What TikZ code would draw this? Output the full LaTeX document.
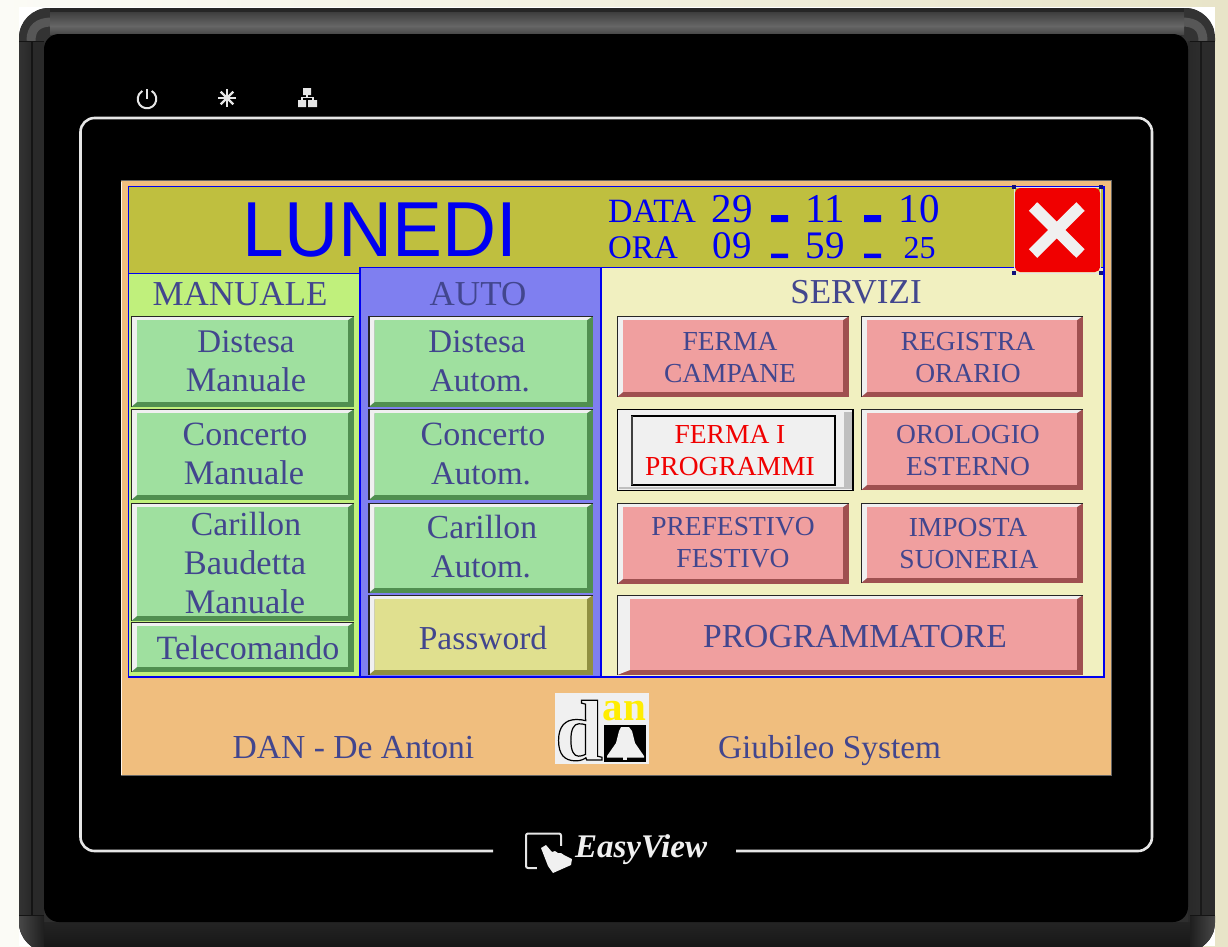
\documentclass[tikz,border=0pt]{standalone}
\usepackage{fontspec}
\setmainfont{Liberation Serif}
\newfontfamily\arialfont[FakeStretch=0.96]{Liberation Sans}
\definecolor{inkblue}{HTML}{42468E}
\definecolor{pureblue}{HTML}{0000F0}
\definecolor{orangebg}{HTML}{F0BE7E}
\definecolor{headerc}{HTML}{BFBF3F}
\definecolor{manc}{HTML}{C0F07C}
\definecolor{autoc}{HTML}{7F7FF0}
\definecolor{servc}{HTML}{F1F0C0}
\definecolor{greenf}{HTML}{9FE09F}
\definecolor{greend}{HTML}{508F50}
\definecolor{pinkf}{HTML}{F09F9F}
\definecolor{pinkd}{HTML}{9F5050}
\definecolor{yelf}{HTML}{E0E08F}
\definecolor{yeld}{HTML}{908F40}
\definecolor{lightb}{HTML}{F0F0F0}
\definecolor{linew}{HTML}{E6E6E6}
\definecolor{bgleft}{HTML}{FBFBF6}
\definecolor{bgright}{HTML}{E8E4C8}
\definecolor{handlec}{HTML}{10107A}
\newcommand\fsz[1]{\fontsize{#1}{#1}\selectfont}
\newcommand\keybtn[7]{%
  \fill[#6] (#1,#2) rectangle (#3,#4);
  \fill[lightb] (#1,#2)--(#3,#2)--(#3-6,#2+4)--(#1+#7,#2+4)--(#1+#7,#4-5)--(#1,#4)--cycle;
  \fill[#5] (#1+#7,#2+4) rectangle (#3-6,#4-5);
  \draw[black!85,line width=1.2pt] (#1+.5,#4)--(#1+.5,#2+.5)--(#3,#2+.5);
}
\tikzset{
  lbl/.style={anchor=base,inner sep=0pt,text=inkblue},
  hdr/.style={anchor=base,inner sep=0pt,text=pureblue},
  bluebox/.style={draw=pureblue,line width=1.1pt},
  handle/.style={fill=handlec},
}
\begin{document}
\begin{tikzpicture}[x=1pt,y=-1pt]
\useasboundingbox (0,0) rectangle (1228,946);
\clip (0,0) rectangle (1228,946);
% page background
\shade[left color=bgleft,right color=bgright] (0,0) rectangle (1228,946);
\fill[white] (19,7) rectangle (1215,946);
% bezel
\begin{scope}
\clip[rounded corners=30pt] (19,8) rectangle (1215,952);
\fill[black!82] (19,8) rectangle (1215,952);
\shade[left color=black!80,right color=black!84] (19,41) rectangle (31,925);
\fill[black!92] (31,41) rectangle (33,925);
\fill[black!84] (33,41) rectangle (44,925);
\shade[left color=black!84,right color=black!82] (1188,41) rectangle (1202,925);
\fill[black!90] (1200,41) rectangle (1202,925);
\fill[black!83] (1202,41) rectangle (1215,925);
\shade[top color=black!86,bottom color=black!92] (19,922) rectangle (1215,952);
% top corners
\fill[black!80] (19,8) rectangle (52,41) (1182,8) rectangle (1215,41);
\draw[black!66,line width=9pt] (31,41) .. controls (31,28) and (38,22) .. (52,22);
\draw[black!66,line width=9pt] (1203,41) .. controls (1203,28) and (1196,22) .. (1182,22);
% top band
\shade[top color=black!80,bottom color=black!60] (50,8) rectangle (1184,26);
\shade[top color=black!60,bottom color=black!72] (50,26) rectangle (1184,34);
\fill[black!85] (50,8) rectangle (1184,12);
% bottom corners
\shade[left color=black!72,right color=black!88] (19,916) rectangle (44,952);
\shade[left color=black!88,right color=black!72] (1190,916) rectangle (1215,952);
\draw[black!92,line width=.8pt] (19,41)--(44,41) (1190,41)--(1215,41) (19,915)--(44,915) (1190,915)--(1215,915);
\end{scope}
\fill[black,rounded corners=15pt] (44,34) rectangle (1188,922);
% white line on the front panel
\draw[linew,line width=2.6pt,rounded corners=14pt] (493,851)--(80.5,851)--(80.5,118)--(1152,118)--(1152,851)--(736,851);
% status icons
\draw[linew,line width=2pt] ([shift={(-60:9.3)}]147,99) arc[start angle=-60,end angle=240,radius=9.3];
\draw[linew,line width=2pt] (147,89)--(147,99);
\foreach \a in {0,45,90,135}{\draw[linew,line width=2.2pt] (227,98)+(\a:9)--+(\a+180:9);}
\fill[linew] (303,88) rectangle (311,95) (298,100) rectangle (306,107) (308,100) rectangle (317,107);
\draw[linew,line width=1.2pt] (307,95)--(307,98) (302,100)--(302,97.5)--(313,97.5)--(313,100);
% screen
\fill[orangebg] (121,181) rectangle (1111,775);
\draw[black!60,line width=1.2pt] (120.5,180.5)--(1111.5,180.5)--(1111.5,775.5)--(121,775.5);
\draw[white!85!orangebg,line width=1pt] (121.5,182)--(121.5,775);
% panels
\fill[headerc] (128.5,186.5)--(1104,186.5)--(1104,267.5)--(360,267.5)--(360,273.5)--(128.5,273.5)--cycle;
\draw[bluebox] (128.5,186.5)--(1104,186.5)--(1104,267.5)--(360,267.5)--(360,273.5)--(128.5,273.5)--cycle;
\fill[manc] (128.5,273.5) rectangle (360,677);
\draw[bluebox] (128.5,273.5) rectangle (360,677);
\fill[servc] (601,267.5) rectangle (1104,677);
\draw[bluebox] (601,267.5) rectangle (1104,677);
\fill[autoc] (360,267.5) rectangle (601,677);
\draw[bluebox] (360,267.5) rectangle (601,677);
% header text
\node[hdr,font=\arialfont\fsz{78}] (day) at (380,256) {LUNEDI};
\node[hdr,font=\fsz{34}] (datal) at (652,222) {DATA};
\node[hdr,font=\fsz{33}] (oral) at (643,258) {ORA};
\node[hdr,font=\fsz{41}] (dd) at (732,222) {29};
\node[hdr,font=\fsz{41}] (mm) at (825,222) {11};
\node[hdr,font=\fsz{41}] (yy) at (919,222) {10};
\node[hdr,font=\fsz{39}] (hh) at (732,258) {09};
\node[hdr,font=\fsz{39}] (mi) at (825,258) {59};
\node[hdr,font=\fsz{32}] (ss) at (919.5,258) {25};
\fill[pureblue] (771,215) rectangle (788,222) (864,215) rectangle (881,222);
\fill[pureblue] (771,253.5) rectangle (788,258) (864,253.5) rectangle (881,258);
% close button
\draw[linew,line width=1pt] (1014,187) rectangle (1100.5,273);
\fill[red!94!black,rounded corners=5pt] (1015,188) rectangle (1100,272);
\draw[lightb,line width=12pt] (1033,206.5)--(1080.5,253.5) (1080.5,206.5)--(1033,253.5);
\foreach \p in {(1014,187),(1100.5,187),(1014,273),(1100.5,273)}{\fill[handle] \p ++(-2,-2) rectangle ++(4,4);}
% column titles
\node[lbl,font=\fsz{35}] (tman) at (240,305) {MANUALE};
\node[lbl,font=\fsz{35}] (tauto) at (478,305) {AUTO};
\node[lbl,font=\fsz{35}] (tserv) at (856,303) {SERVIZI};
% manuale
\keybtn{131}{316}{354}{407}{greenf}{greend}{6}
\keybtn{131}{409}{354}{500}{greenf}{greend}{6}
\keybtn{131}{503}{354}{621}{greenf}{greend}{6}
\keybtn{131}{622}{354}{672}{greenf}{greend}{6}
\node[lbl,font=\fsz{33}] (m1a) at (246,352) {Distesa};
\node[lbl,font=\fsz{34.4}] (m1b) at (246,391) {Manuale};
\node[lbl,font=\fsz{34}] (m2a) at (245,445) {Concerto};
\node[lbl,font=\fsz{34.4}] (m2b) at (244,484) {Manuale};
\node[lbl,font=\fsz{33.6}] (m3a) at (246,535) {Carillon};
\node[lbl,font=\fsz{34.4}] (m3b) at (245,574) {Baudetta};
\node[lbl,font=\fsz{34.4}] (m3c) at (245,613) {Manuale};
\node[lbl,font=\fsz{34}] (m4) at (248,659) {Telecomando};
% auto
\keybtn{368.5}{316}{593}{407}{greenf}{greend}{6}
\keybtn{368.5}{409}{593}{500}{greenf}{greend}{6}
\keybtn{368.5}{503}{593}{593}{greenf}{greend}{6}
\keybtn{368.5}{595}{593}{675}{yelf}{yeld}{6}
\node[lbl,font=\fsz{33}] (a1a) at (477,352) {Distesa};
\node[lbl,font=\fsz{33}] (a1b) at (480,391) {Autom.};
\node[lbl,font=\fsz{34}] (a2a) at (483,445) {Concerto};
\node[lbl,font=\fsz{33}] (a2b) at (481,484) {Autom.};
\node[lbl,font=\fsz{33.6}] (a3a) at (482,538) {Carillon};
\node[lbl,font=\fsz{33}] (a3b) at (481,577) {Autom.};
\node[lbl,font=\fsz{33.5}] (a4) at (483,649) {Password};
% servizi
\keybtn{617}{316}{849}{397}{pinkf}{pinkd}{6}
\keybtn{861}{316}{1083}{397}{pinkf}{pinkd}{6}
\keybtn{861}{409}{1083}{490}{pinkf}{pinkd}{6}
\keybtn{617}{503}{849}{584}{pinkf}{pinkd}{6}
\keybtn{861}{503}{1083}{583}{pinkf}{pinkd}{6}
\keybtn{617}{595}{1083}{675}{pinkf}{pinkd}{13}
% pressed button
\fill[lightb] (617.5,409.5) rectangle (853,490.5);
\fill[black!25] (844,412) rectangle (852,489);
\fill[black!25] (619,486.5) rectangle (852,489);
\draw[black,line width=1.6pt] (617.5,409.5) rectangle (853,490.5);
\fill[lightb] (632,416) rectangle (835,485);
\draw[black,line width=1.4pt] (632,416) rectangle (835,485);
\draw[black!75,line width=2pt] (632,416)--(632,485);
\node[lbl,font=\fsz{27.5}] (s1a) at (730,350) {FERMA};
\node[lbl,font=\fsz{27.5}] (s1b) at (730,382) {CAMPANE};
\node[lbl,font=\fsz{27.5}] (s2a) at (968,350) {REGISTRA};
\node[lbl,font=\fsz{27.5}] (s2b) at (968,382) {ORARIO};
\node[lbl,font=\fsz{27.5},text=red!94!black] (s3a) at (730,443) {FERMA I};
\node[lbl,font=\fsz{27.5},text=red!94!black] (s3b) at (730,475) {PROGRAMMI};
\node[lbl,font=\fsz{27.5}] (s4a) at (968,443) {OROLOGIO};
\node[lbl,font=\fsz{27.5}] (s4b) at (968,475) {ESTERNO};
\node[lbl,font=\fsz{27.5}] (s5a) at (733,535) {PREFESTIVO};
\node[lbl,font=\fsz{27.5}] (s5b) at (733,567) {FESTIVO};
\node[lbl,font=\fsz{27.5}] (s6a) at (968,536) {IMPOSTA};
\node[lbl,font=\fsz{27.5}] (s6b) at (969,568) {SUONERIA};
\node[lbl,font=\fsz{33.6}] (s7) at (855,647) {PROGRAMMATORE};
% footer
\node[lbl,font=\fsz{33.6}] (dan) at (353.5,758) {DAN - De Antoni};
\node[lbl,font=\fsz{33.3}] (giu) at (829.5,758) {Giubileo System};
% logo
\fill[lightb] (555,693) rectangle (648.5,763.5);
\node[anchor=base,inner sep=0pt,text=black,font=\bfseries\fsz{86}] (logod) at (579,760) {\special{pdf:code 1 Tr 1.2 w}d\special{pdf:code 0 Tr}};
\node[anchor=base,inner sep=0pt,text=yellow!95!orange,font=\bfseries\fsz{41}] (logoan) at (624.5,720) {an};
\fill[black] (604,725) rectangle (646,762);
\fill[lightb] (621,727)--(629,727)--(632,731)--(635,743)--(644,756)--(644,757.5)--(607,757.5)--(607,756)--(616,743)--(619,731)--cycle;
\fill[lightb] (623,757) rectangle (627,760);
% EasyView mark
\draw[linew,line width=2pt,rounded corners=2pt] (543,868)--(526,868)--(526,833.5)--(561,833.5)--(561,851);
\fill[black] (537,846) rectangle (575,876);
\fill[lightb] (541,848)--(546,845)--(552,852)--(555,851)--(558,853)--(561,853)--(564,855)--(572,859)--(571,865)--(553,873)--(548,866)--cycle;
\node[anchor=base,inner sep=0pt,text=lightb,font=\bfseries\itshape\fsz{33}] (brand) at (641,857) {EasyView};
\end{tikzpicture}
\end{document}
